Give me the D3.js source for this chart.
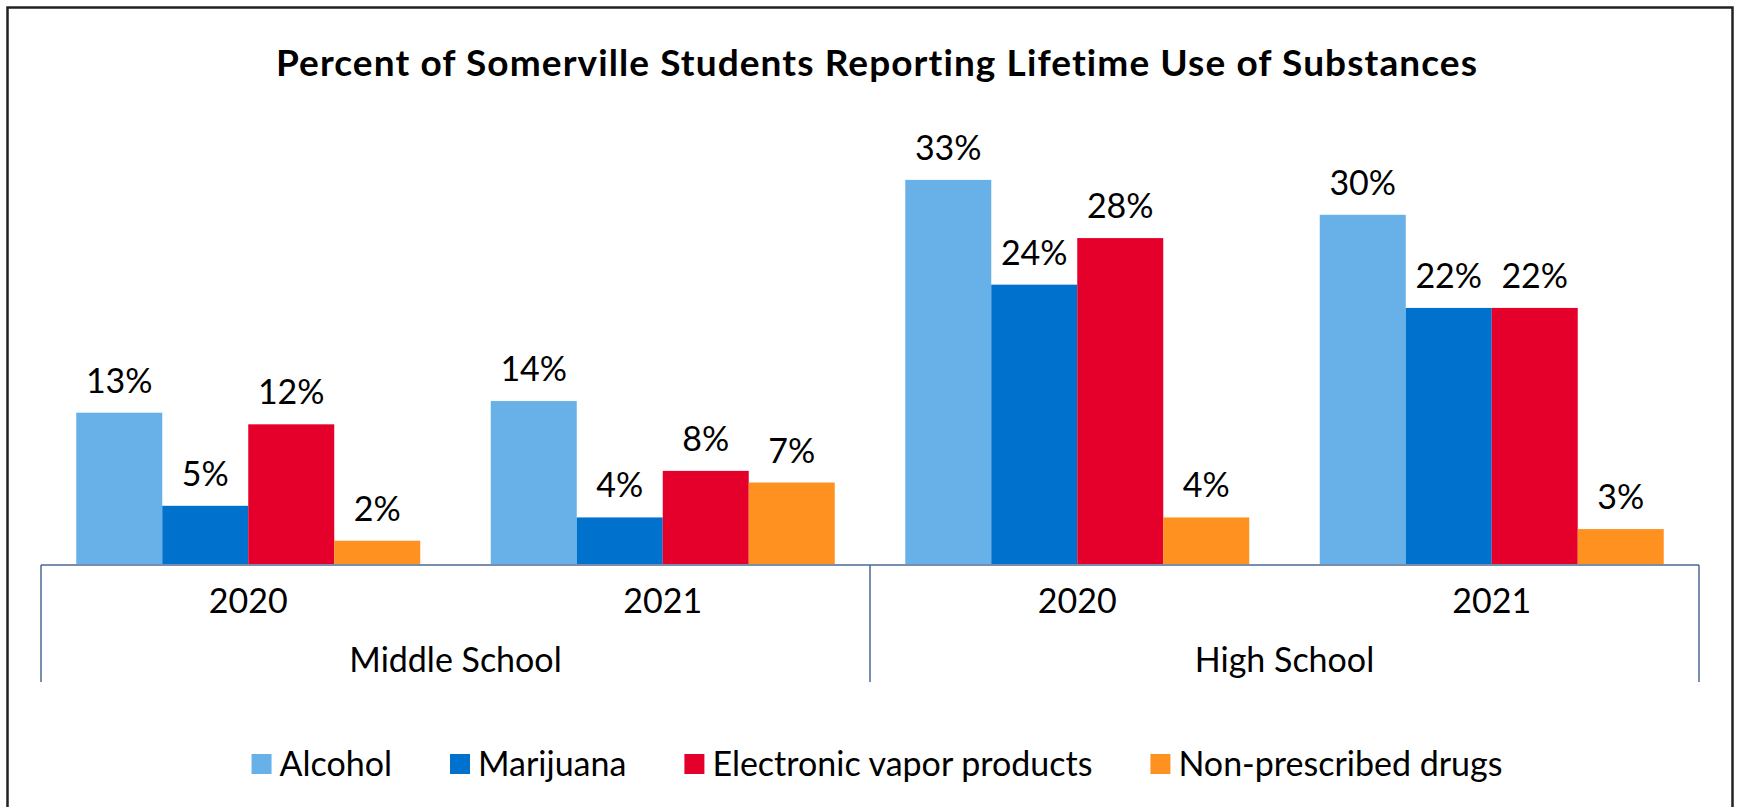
<!DOCTYPE html>
<html>
<head>
<meta charset="utf-8">
<script src="https://cdn.jsdelivr.net/npm/d3@7"></script>
<style>
  html, body { margin: 0; padding: 0; background: #fff; }
  svg { display: block; }
  text { font-family: Lato, "Open Sans", sans-serif; fill: #000; }
</style>
</head>
<body>
<svg id="chart" width="1739" height="807"></svg>
<script>
// ---- data ----
const schools = ["Middle School", "High School"];
const years = ["2020", "2021"];
const series = ["Alcohol", "Marijuana", "Electronic vapor products", "Non-prescribed drugs"];
const colors = ["#67B1E8", "#0071CC", "#E4002B", "#FF9120"];
const alcohol = [13, 14, 33, 30];
const marijuana = [5, 4, 24, 22];
const vapor = [12, 8, 28, 22];
const nonPrescribed = [2, 7, 4, 3];
const titleText = "Percent of Somerville Students Reporting Lifetime Use of Substances";

const values = [alcohol, marijuana, vapor, nonPrescribed];
const cats = [];
schools.forEach(s => years.forEach(y => cats.push({ school: s, year: y, key: s + "|" + y })));
const rows = cats.map((c, i) => ({ ...c, vals: series.map((s, j) => ({ series: s, value: values[j][i], color: colors[j] })) }));

const svg = d3.select("#chart");

// frame
svg.append("rect").attr("x", 7.5).attr("y", 7.5).attr("width", 1725).attr("height", 860)
  .attr("fill", "none").attr("stroke", "#222").attr("stroke-width", 2.5);

// scales
const left = 41, right = 1699, base = 564;
const x0 = d3.scaleBand().domain(cats.map(c => c.key)).range([left, right]).padding(0);
const x1 = d3.scaleBand().domain(series).range([0, x0.bandwidth()]).paddingInner(0).paddingOuter(0.41);
const y = d3.scaleLinear().domain([0, 35]).range([base, base - 35 * 11.64]);
const xs = d3.scaleBand().domain(schools).range([left, right]).padding(0);

// title
svg.append("text").attr("x", 877).attr("y", 76).attr("text-anchor", "middle")
  .style("font-weight", "bold").style("font-size", "37px").style("letter-spacing", "1.1px").text(titleText);

// bars
const g = svg.selectAll("g.cat").data(rows).join("g").attr("class", "cat")
  .attr("transform", d => `translate(${x0(d.key)},0)`);
g.selectAll("rect").data(d => d.vals).join("rect")
  .attr("x", d => x1(d.series)).attr("width", x1.bandwidth())
  .attr("y", d => y(d.value)).attr("height", d => y(0) - y(d.value))
  .attr("fill", d => d.color);
g.selectAll("text.lbl").data(d => d.vals).join("text").attr("class", "lbl")
  .attr("x", d => x1(d.series) + x1.bandwidth() / 2).attr("y", d => y(d.value) - 20)
  .attr("text-anchor", "middle").style("font-size", "34px").text(d => d.value + "%");

// axis lines
const axisColor = "#4A6894";
svg.append("line").attr("x1", left).attr("x2", right).attr("y1", base + 1).attr("y2", base + 1)
  .attr("stroke", axisColor).attr("stroke-width", 1.5);
const dividers = [left, xs(schools[1]), right];
svg.selectAll("line.div").data(dividers).join("line").attr("class", "div")
  .attr("x1", d => d).attr("x2", d => d).attr("y1", base + 1).attr("y2", 682)
  .attr("stroke", axisColor).attr("stroke-width", 1.5);

// year labels
svg.selectAll("text.year").data(cats).join("text").attr("class", "year")
  .attr("x", d => x0(d.key) + x0.bandwidth() / 2).attr("y", 613)
  .attr("text-anchor", "middle").style("font-size", "34px").text(d => d.year);
// school labels
svg.selectAll("text.school").data(schools).join("text").attr("class", "school")
  .attr("x", d => xs(d) + xs.bandwidth() / 2).attr("y", 672)
  .attr("text-anchor", "middle").style("font-size", "34px").text(d => d);

// legend
const leg = svg.append("g");
const items = leg.selectAll("g").data(series).join("g");
items.append("rect").attr("x", 0).attr("y", 754).attr("width", 20).attr("height", 20)
  .attr("fill", (d, i) => colors[i]);
items.append("text").attr("x", 28).attr("y", 776).style("font-size", "34px").text(d => d);
let cx = 0;
items.each(function () {
  const w = d3.select(this).select("text").node().getComputedTextLength();
  d3.select(this).attr("transform", `translate(${cx},0)`);
  cx += 28 + w + 58;
});
const total = cx - 58;
leg.attr("transform", `translate(${877 - total / 2},0)`);
</script>
</body>
</html>
